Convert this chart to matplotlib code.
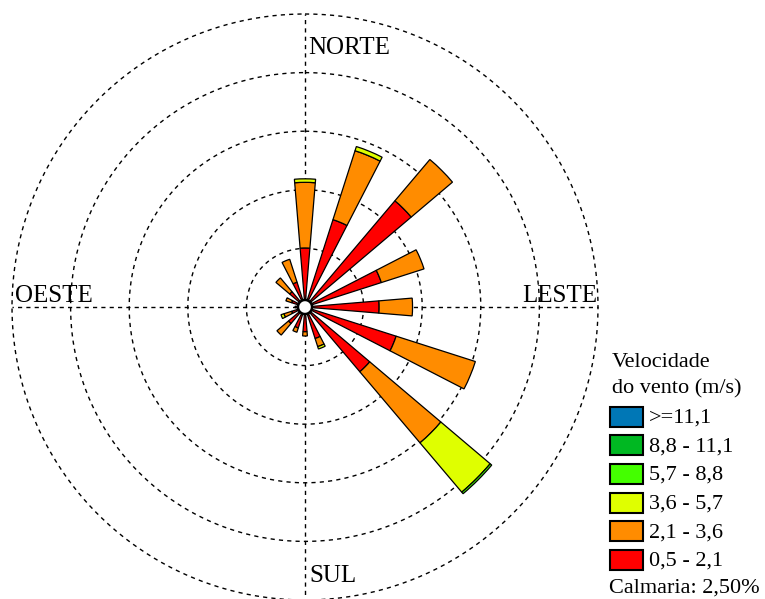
import numpy as np
import matplotlib
matplotlib.use("Agg")
import matplotlib.pyplot as plt
from matplotlib.patches import Rectangle

# Wind directions (16 sectors, clockwise from north)
directions = ["N", "NNE", "NE", "ENE", "E", "ESE", "SE", "SSE",
              "S", "SSW", "SW", "WSW", "W", "WNW", "NW", "NNW"]

# Speed classes (m/s) and their colours, from lowest to highest
speed_classes = ["0,5 - 2,1", "2,1 - 3,6", "3,6 - 5,7", "5,7 - 8,8", "8,8 - 11,1", ">=11,1"]
class_colors = ["#ff0000", "#ff8c00", "#dfff00", "#44ff00", "#00b822", "#0077b6"]

# Frequency (%) per direction for each speed class
freq_05_21 = [4.03, 6.26, 9.50, 5.47, 5.06, 6.53, 5.79, 2.26, 1.69, 1.50, 1.48, 0.96, 0.68, 0.96, 1.37, 1.78]
freq_21_36 = [4.48, 4.94, 3.69, 3.06, 2.28, 5.68, 6.36, 0.58, 0.29, 0.31, 1.03, 0.55, 0.00, 0.41, 1.23, 1.64]
freq_36_57 = [0.24, 0.30, 0.00, 0.00, 0.00, 0.00, 4.41, 0.17, 0.00, 0.00, 0.00, 0.21, 0.00, 0.00, 0.00, 0.00]
freq_57_88 = [0.00, 0.00, 0.00, 0.00, 0.00, 0.00, 0.14, 0.00, 0.00, 0.00, 0.00, 0.00, 0.00, 0.00, 0.00, 0.00]
freq_88_111 = [0.0] * 16
freq_111 = [0.0] * 16
calm_pct = 2.50

ring_levels = [4, 8, 12, 16, 20]
compass_labels = ["NORTE", "LESTE", "SUL", "OESTE"]

W, H = 765, 599
fig = plt.figure(figsize=(W / 100, H / 100), dpi=100)
fig.patch.set_facecolor("white")

cx, cy, rad = 305, 307, 293  # pixel centre and outer radius of the rose
ax = fig.add_axes([(cx - rad) / W, (H - cy - rad) / H, 2 * rad / W, 2 * rad / H],
                  projection="polar")
ax.set_theta_zero_location("N")
ax.set_theta_direction(-1)
ax.set_ylim(0, ring_levels[-1])
ax.set_axis_off()

serif = "Liberation Serif"
dash = (0, (3, 3))

# Dashed frequency rings
t = np.linspace(0, 2 * np.pi, 400)
for r in ring_levels:
    ax.plot(t, np.full_like(t, r), color="black", lw=1.0, linestyle=dash,
            clip_on=False, zorder=1)

# Dashed cross through the centre
for ang in [0, np.pi / 2, np.pi, 3 * np.pi / 2]:
    ax.plot([ang, ang], [0, ring_levels[-1]], color="black", lw=1.0,
            linestyle=dash, clip_on=False, zorder=1)

# Stacked petals
theta = np.deg2rad(np.arange(len(directions)) * 22.5)
width = np.deg2rad(9.5)
series = [freq_05_21, freq_21_36, freq_36_57, freq_57_88, freq_88_111, freq_111]
bottom = np.zeros(len(directions))
for vals, col in zip(series, class_colors):
    vals = np.asarray(vals, dtype=float)
    m = vals > 0
    if m.any():
        ax.bar(theta[m], vals[m], width=width, bottom=bottom[m], color=col,
               edgecolor="black", linewidth=0.9, zorder=3)
    bottom += vals

# Calm circle at the centre
calm_r = 0.48
ax.fill(t, np.full_like(t, calm_r), facecolor="white", edgecolor="black",
        lw=1.8, zorder=6)

# Compass labels
def px(x, y):
    return x / W, 1 - y / H

fig.text(*px(308, 54), compass_labels[0], fontsize=18, family=serif, ha="left", va="baseline")
fig.text(*px(597, 302), compass_labels[1], fontsize=18, family=serif, ha="right", va="baseline")
fig.text(*px(309, 582), compass_labels[2], fontsize=18, family=serif, ha="left", va="baseline")
fig.text(*px(15, 302), compass_labels[3], fontsize=18, family=serif, ha="left", va="baseline")

# Legend
fig.text(*px(612, 367), "Velocidade", fontsize=16, family=serif, ha="left", va="baseline")
fig.text(*px(612, 393), "do vento (m/s)", fontsize=16, family=serif, ha="left", va="baseline")
for i, (lab, col) in enumerate(zip(speed_classes[::-1], class_colors[::-1])):
    top = 406.5 + i * 28.7
    x0, y0 = px(610, top + 20)
    fig.patches.append(Rectangle((x0, y0), 33 / W, 20 / H, transform=fig.transFigure,
                                 facecolor=col, edgecolor="black", lw=1.5))
    fig.text(*px(649, top + 16), lab, fontsize=16, family=serif, ha="left", va="baseline")
fig.text(*px(609, 593), "Calmaria: " + f"{calm_pct:.2f}".replace(".", ",") + "%",
         fontsize=16, family=serif, ha="left", va="baseline")

fig.savefig("out.png", dpi=100, facecolor="white")
